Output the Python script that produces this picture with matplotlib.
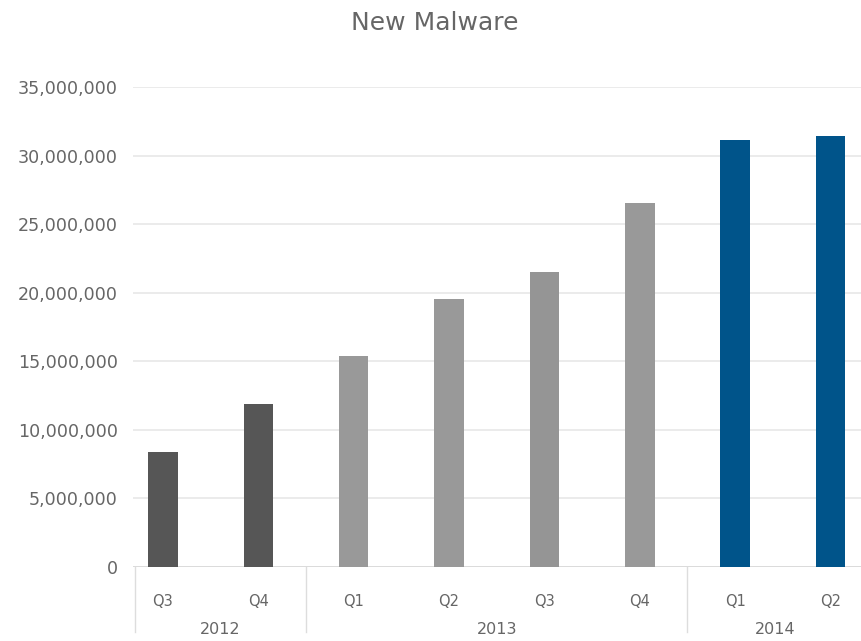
import matplotlib
matplotlib.use("Agg")
import matplotlib.pyplot as plt
import matplotlib.transforms as mtransforms
from matplotlib.ticker import FuncFormatter

quarters = ["Q3", "Q4", "Q1", "Q2", "Q3", "Q4", "Q1", "Q2"]
years = ["2012", "2013", "2014"]
year_counts = [2, 4, 2]
values = [8380000, 11880000, 15380000, 19530000, 21500000, 26530000, 31120000, 31400000]
colors = ["#565656", "#565656", "#999999", "#999999", "#959595", "#999999", "#00548a", "#00548a"]

plt.rcParams['font.family'] = ['DejaVu Sans']

fig = plt.figure(figsize=(8.62, 6.41), dpi=100)
W, H = 862, 641
ax = fig.add_axes([133 / W, 1 - 567 / H, 1 - 133 / W, (567 - 87) / H])

x = list(range(len(values)))
ax.bar(x, values, width=0.31, color=colors, zorder=3)

xmin, xmax = -0.314, 7.33
ax.set_ylim(0, 35000000)
ax.set_xlim(xmin, xmax)
ax.set_yticks(range(0, 35000001, 5000000))
ax.yaxis.set_major_formatter(FuncFormatter(lambda v, p: f"{int(v):,}"))
ax.tick_params(axis='y', length=0, pad=11, labelsize=12.6, labelcolor="#666666")
ax.set_xticks([])
ax.grid(axis='y', color="#e8e8e8", linewidth=1.2, zorder=0)
for s in ax.spines.values():
    s.set_visible(False)
ax.axhline(0, color="#d8d8d8", linewidth=1.2, zorder=2)

trans = mtransforms.blended_transform_factory(ax.transData, fig.transFigure)
for xi, q in zip(x, quarters):
    ax.text(xi, 1 - 602 / H, q, transform=trans, ha='center', va='center',
            fontsize=10.5, color="#666666")

edges = [-0.29]
start = 0
for n in year_counts:
    start += n
    edges.append(start - 0.5 if start < len(values) else xmax)
for i, yr in enumerate(years):
    center = (edges[i] + edges[i + 1]) / 2
    ax.text(center, 1 - 629 / H, yr, transform=trans, ha='center', va='center',
            fontsize=11.5, color="#666666")
for b in edges[:-1]:
    ax.plot([b, b], [1 - 632 / H, 1 - 567 / H], transform=trans, color="#dddddd",
            linewidth=1, clip_on=False)

fig.text(435 / W, 1 - 23 / H, "New Malware", ha='center', va='center',
         fontsize=18, color="#666666")

fig.savefig("out.png", dpi=100)
